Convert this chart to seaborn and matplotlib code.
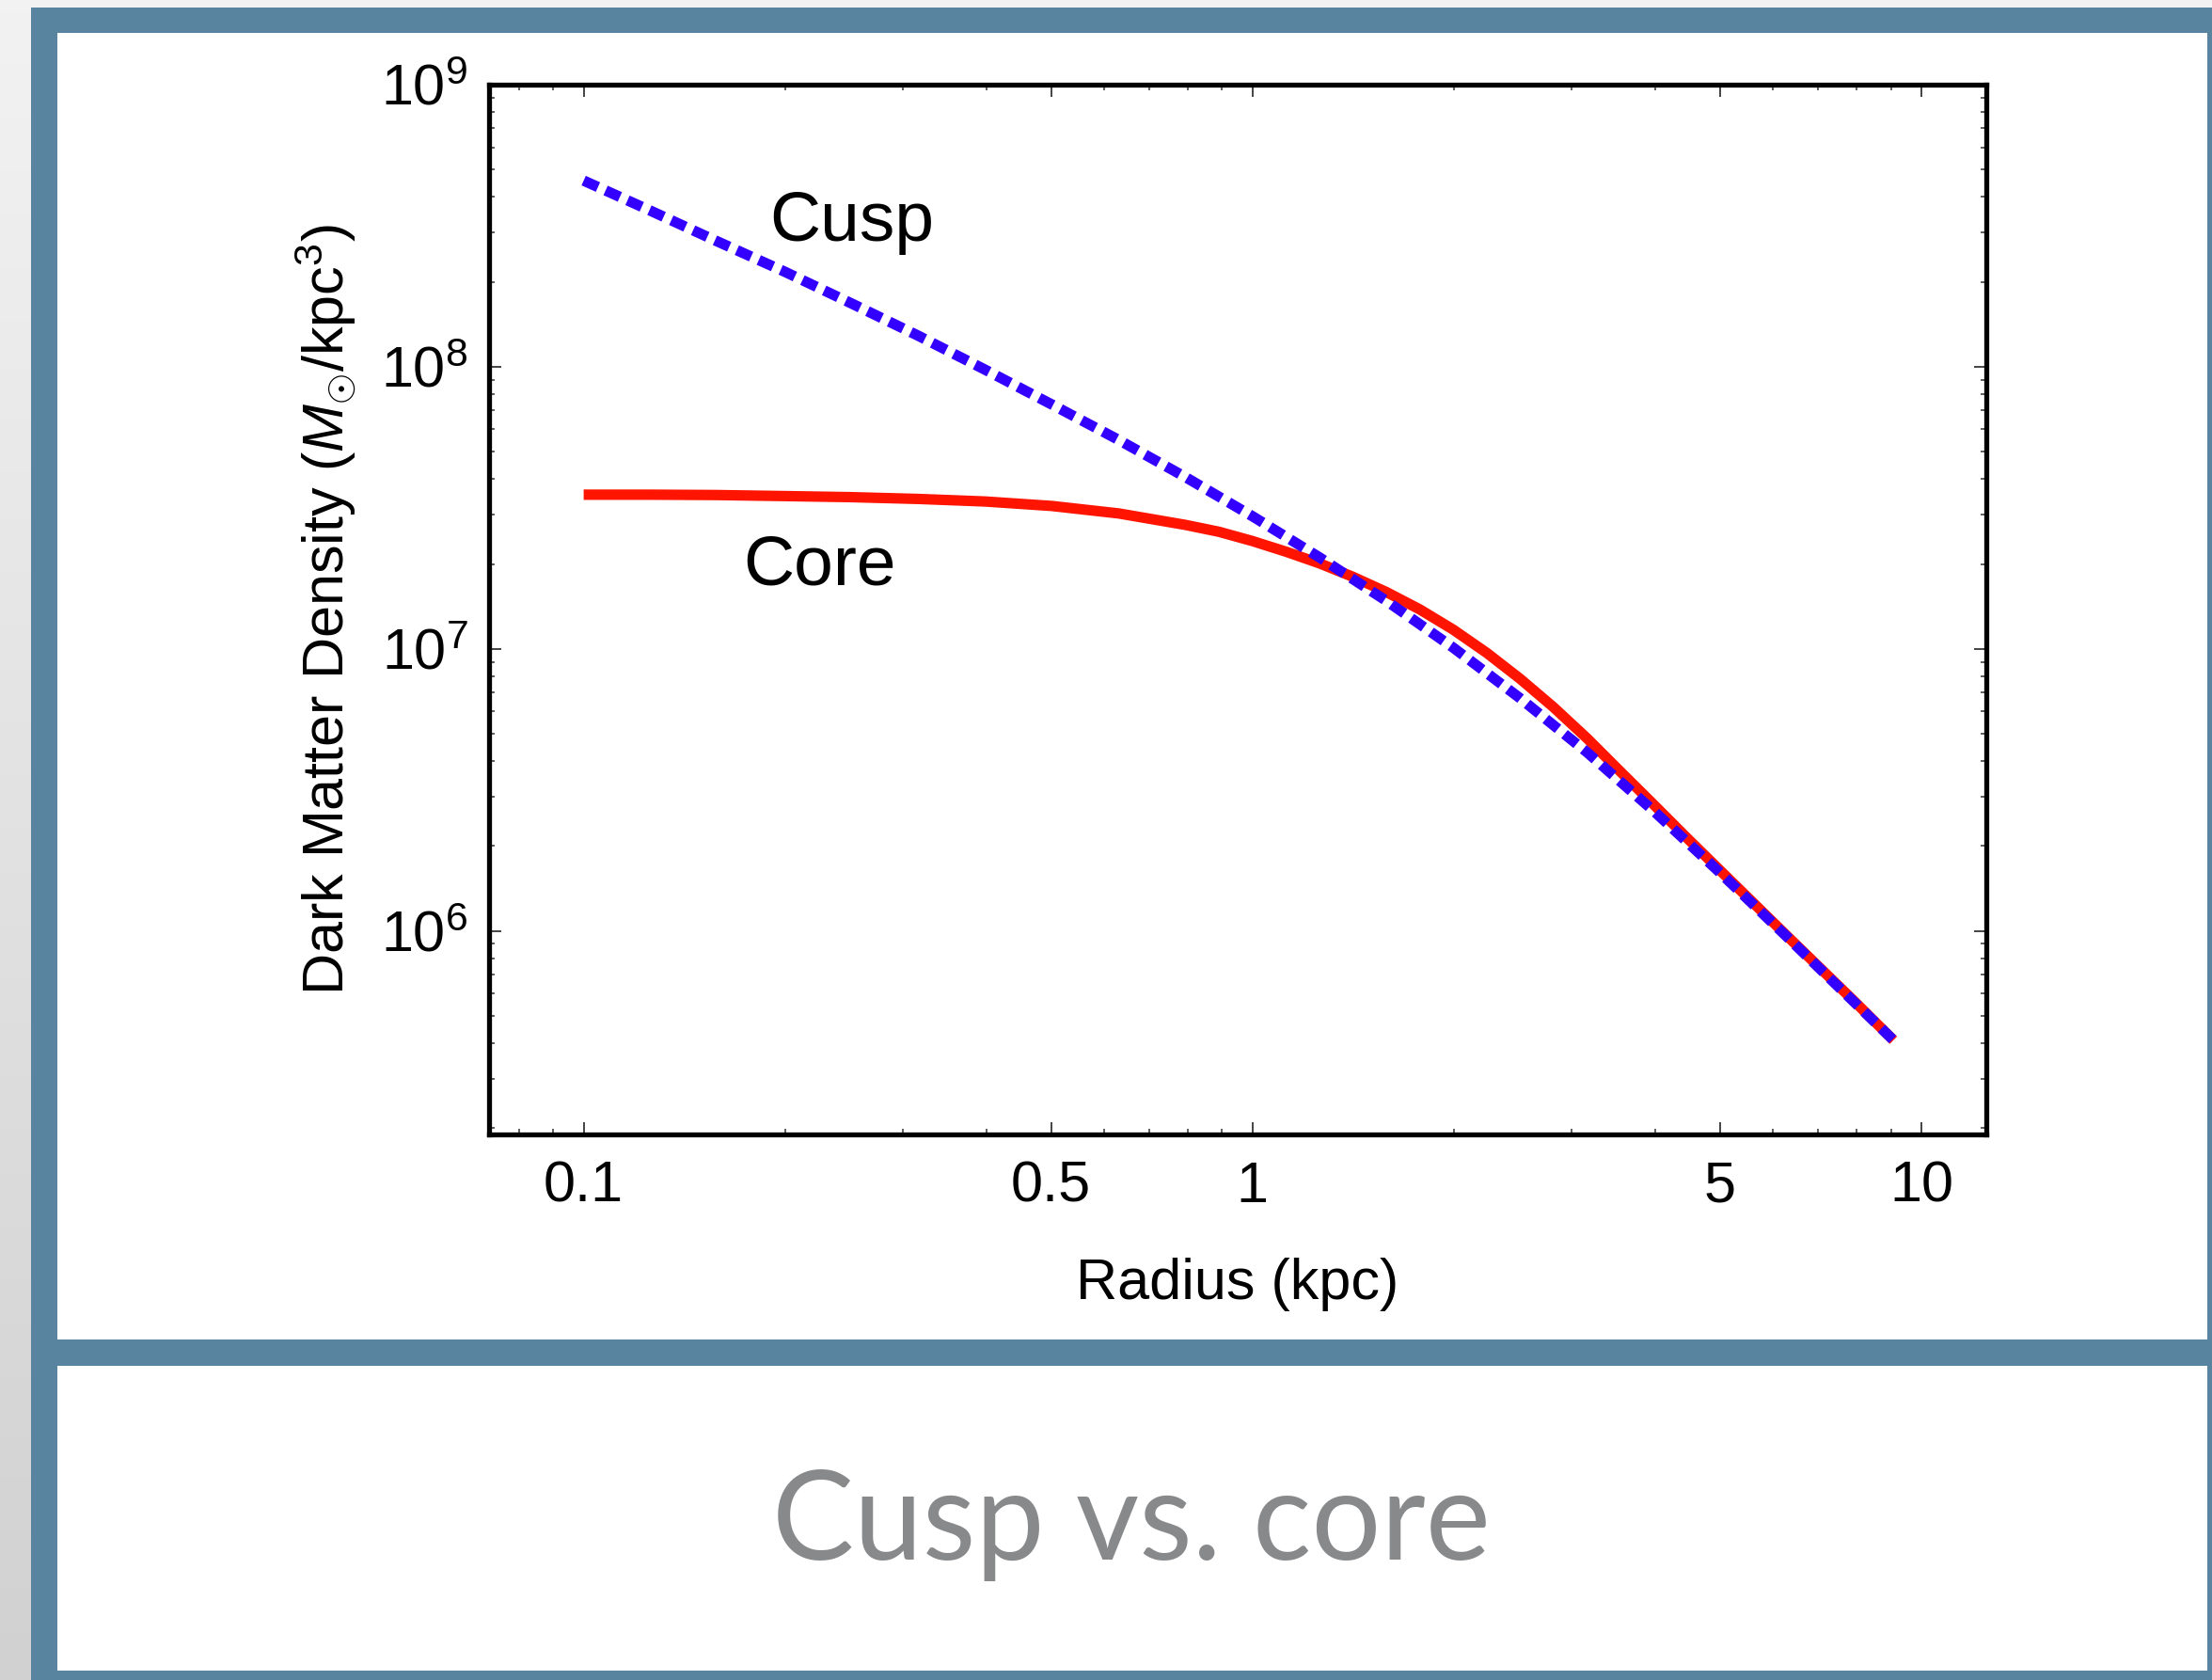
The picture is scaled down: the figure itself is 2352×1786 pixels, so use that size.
import numpy as np
import pandas as pd
import matplotlib
matplotlib.use("Agg")
import matplotlib.pyplot as plt
from matplotlib.patches import Rectangle
from matplotlib.ticker import FixedLocator, FixedFormatter, LogLocator, NullFormatter
import seaborn as sns

# ---------------- data ----------------
cusp_radius = [0.1, 0.126, 0.158, 0.2, 0.251, 0.316, 0.398, 0.501, 0.631, 0.794, 1.0,
               1.259, 1.585, 1.995, 2.512, 3.162, 3.981, 5.012, 6.31, 7.943, 9.08]
cusp_density = [4.57e8, 3.57e8, 2.79e8, 2.17e8, 1.68e8, 1.29e8, 9.77e7, 7.35e7, 5.50e7, 4.06e7, 2.95e7,
                2.11e7, 1.48e7, 1.01e7, 6.68e6, 4.30e6, 2.66e6, 1.60e6, 9.48e5, 5.58e5, 4.10e5]

core_radius = [0.1, 0.126, 0.158, 0.2, 0.251, 0.316, 0.398, 0.501, 0.631, 0.794, 0.891, 1.0,
               1.122, 1.259, 1.413, 1.585, 1.778, 1.995, 2.239, 2.512, 2.818, 3.162, 3.548,
               3.981, 4.467, 5.012, 6.31, 7.943, 9.08]
core_density = [3.52e7, 3.52e7, 3.51e7, 3.48e7, 3.45e7, 3.40e7, 3.33e7, 3.21e7, 3.02e7, 2.75e7, 2.60e7, 2.41e7,
                2.21e7, 2.01e7, 1.80e7, 1.59e7, 1.38e7, 1.17e7, 9.68e6, 7.83e6, 6.21e6, 4.82e6, 3.67e6,
                2.80e6, 2.13e6, 1.63e6, 9.55e5, 5.62e5, 4.10e5]

x_ticks = [0.1, 0.5, 1, 5, 10]
x_ticklabels = ["0.1", "0.5", "1", "5", "10"]
y_ticks = [1e6, 1e7, 1e8, 1e9]
y_ticklabels = [r"$10^{6}$", r"$10^{7}$", r"$10^{8}$", r"$10^{9}$"]

caption = "Cusp vs. core"
xlabel = "Radius (kpc)"
ylabel = r"Dark Matter Density ($M_{\odot}$/kpc$^{3}$)"

# ---------------- style ----------------
sns.set_theme(style="ticks")
plt.rcParams["font.family"] = ["Liberation Sans", "DejaVu Sans"]
plt.rcParams["mathtext.fontset"] = "custom"
plt.rcParams["mathtext.rm"] = "Liberation Sans"
plt.rcParams["mathtext.it"] = "Liberation Sans:italic"
plt.rcParams["mathtext.bf"] = "Liberation Sans:bold"

W, H, DPI = 2352, 1786, 200
fig = plt.figure(figsize=(W / DPI, H / DPI), dpi=DPI)

def fx(px):
    return px / W

def fy(py):
    return 1 - py / H

# background: light grey gradient
bg = fig.add_axes([0, 0, 1, 1], zorder=-10)
grad = np.linspace(0.95, 0.82, 256).reshape(-1, 1)
bg.imshow(np.dstack([grad, grad, grad]), aspect="auto", extent=[0, 1, 0, 1], transform=bg.transAxes)
bg.set_axis_off()

frame_blue = "#5984a0"
fig.patches.append(Rectangle((fx(33), 0), 1 - fx(33), fy(8), transform=fig.transFigure,
                             facecolor=frame_blue, edgecolor="none", zorder=-5))
# upper white panel
fig.patches.append(Rectangle((fx(61), fy(1424)), fx(2347) - fx(61), fy(35) - fy(1424),
                             transform=fig.transFigure, facecolor="white", edgecolor="none", zorder=-4))
# lower white panel
fig.patches.append(Rectangle((fx(61), fy(1776)), fx(2347) - fx(61), fy(1452) - fy(1776),
                             transform=fig.transFigure, facecolor="white", edgecolor="none", zorder=-4))

# ---------------- main axes ----------------
ax = fig.add_axes([fx(520), fy(1206), fx(2112) - fx(520), fy(90) - fy(1206)])
ax.set_facecolor("none")

core_df = pd.DataFrame({"radius": core_radius, "density": core_density})
cusp_df = pd.DataFrame({"radius": cusp_radius, "density": cusp_density})

sns.lineplot(data=core_df, x="radius", y="density", ax=ax, color="#ff1400",
             linewidth=4.0, solid_capstyle="butt", solid_joinstyle="round", sort=False, zorder=3)
sns.lineplot(data=cusp_df, x="radius", y="density", ax=ax, color="#3300ff",
             linewidth=4.0, linestyle=(0, (1.5, 0.8)), dash_capstyle="butt",
             dash_joinstyle="round", sort=False, zorder=4)

ax.set_xscale("log")
ax.set_yscale("log")
ax.set_xlim(0.0722, 12.5)
ax.set_ylim(1.9e5, 1e9)

ax.xaxis.set_major_locator(FixedLocator(x_ticks))
ax.xaxis.set_major_formatter(FixedFormatter(x_ticklabels))
ax.xaxis.set_minor_locator(LogLocator(base=10, subs=np.arange(2, 10)))
ax.xaxis.set_minor_formatter(NullFormatter())
ax.yaxis.set_major_locator(FixedLocator(y_ticks))
ax.yaxis.set_major_formatter(FixedFormatter(y_ticklabels))
ax.yaxis.set_minor_locator(LogLocator(base=10, subs=np.arange(2, 10)))
ax.yaxis.set_minor_formatter(NullFormatter())

ax.tick_params(which="both", direction="in", top=True, right=True, color="#444444")
ax.tick_params(which="major", length=4.7, width=0.7, labelsize=22, pad=8, labelcolor="black")
ax.tick_params(which="minor", length=2.2, width=0.6)
ax.tick_params(axis="x", which="major", pad=10)

for s in ax.spines.values():
    s.set_linewidth(1.9)
    s.set_color("black")
    s.set_visible(True)

ax.set_xlabel(xlabel, fontsize=22, color="black")
ax.set_ylabel(ylabel, fontsize=22, color="black")
ax.xaxis.set_label_coords(0.5, -0.117)
ax.yaxis.set_label_coords(-0.087, 0.5)

ax.text(0.252, 2.8e8, "Cusp", fontsize=27, ha="center", va="baseline", color="black")
ax.text(0.225, 1.69e7, "Core", fontsize=27, ha="center", va="baseline", color="black")

# caption
fig.text(fx(1203), fy(1658), caption, ha="center", va="baseline", fontsize=47,
         color="#87898b", family=["Lato", "DejaVu Sans"])

fig.savefig("out.png", dpi=DPI)
